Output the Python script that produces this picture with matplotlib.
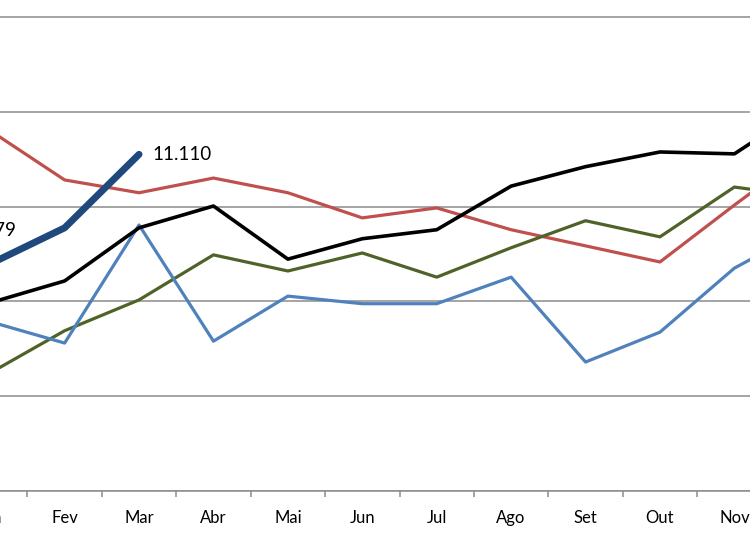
import matplotlib
matplotlib.use('Agg')
import matplotlib.pyplot as plt
import numpy as np

# Month categories (Portuguese)
months = ['Jan', 'Fev', 'Mar', 'Abr', 'Mai', 'Jun', 'Jul', 'Ago', 'Set', 'Out', 'Nov', 'Dez']

# Series values
serie_vermelha = [11160, 11056, 11029, 11060, 11029, 10976, 10997, 10951, 10917, 10883, 11003, 11119]
serie_preta = [10797, 10843, 10955, 11001, 10889, 10932, 10951, 11043, 11084, 11115, 11111, 11214]
serie_verde = [10649, 10738, 10803, 10898, 10864, 10902, 10851, 10913, 10970, 10936, 11041, 11020]
serie_azul = [10757, 10712, 10961, 10716, 10811, 10795, 10795, 10851, 10672, 10735, 10870, 10955]
serie_atual = [10879, 10955, 11110]

plt.rcParams['font.family'] = ['Lato', 'DejaVu Sans']

fig = plt.figure(figsize=(7.5, 5.36), dpi=100)
W, H = 750, 536
# axes extend past the figure edges (cropped chart)
left_px, right_px = -47, 846
top_px, bottom_px = -78, 491
ax = fig.add_axes([left_px / W, 1 - bottom_px / H,
                   (right_px - left_px) / W, (bottom_px - top_px) / H])

x = np.arange(len(months))
ax.plot(x, serie_vermelha, color='#C0504D', lw=2.3, zorder=3)
ax.plot(x, serie_verde, color='#4F6228', lw=2.3, zorder=3)
ax.plot(x, serie_azul, color='#4F81BD', lw=2.3, zorder=3)
ax.plot(x, serie_preta, color='black', lw=2.6, zorder=4)
xa = np.arange(len(serie_atual))
ax.plot(xa, serie_atual, color='#1F497D', lw=5, solid_capstyle='round', zorder=5)

def fmt(v):
    return f'{v:,}'.replace(',', '.')

ax.annotate(fmt(serie_atual[0]), xy=(xa[0], serie_atual[0]), xytext=(19, 24),
            textcoords='offset points', ha='right', va='center', fontsize=13.5)
ax.annotate(fmt(serie_atual[-1]), xy=(xa[-1], serie_atual[-1]), xytext=(10, 0),
            textcoords='offset points', ha='left', va='center', fontsize=13.5)

ax.set_xlim(-0.5, 11.5)
ax.set_ylim(10400, 11600)
ax.set_yticks(np.arange(10400, 11601, 200))
ax.yaxis.grid(True, color='#8c8c8c', lw=1.1)
ax.set_axisbelow(True)
ax.tick_params(axis='y', left=False, labelleft=False)

# ticks between categories, labels at category centres
ax.set_xticks(np.arange(-0.5, 12, 1))
ax.set_xticklabels([])
ax.set_xticks(x, minor=True)
ax.set_xticklabels(months, minor=True, fontsize=12)
ax.tick_params(axis='x', which='major', direction='out', length=4, color='#8c8c8c', width=1.1)
ax.tick_params(axis='x', which='minor', length=0, pad=14)

for s in ['top', 'right', 'left']:
    ax.spines[s].set_visible(False)
ax.spines['bottom'].set_color('#8c8c8c')
ax.spines['bottom'].set_linewidth(1.1)

fig.savefig('out.png', dpi=100)
